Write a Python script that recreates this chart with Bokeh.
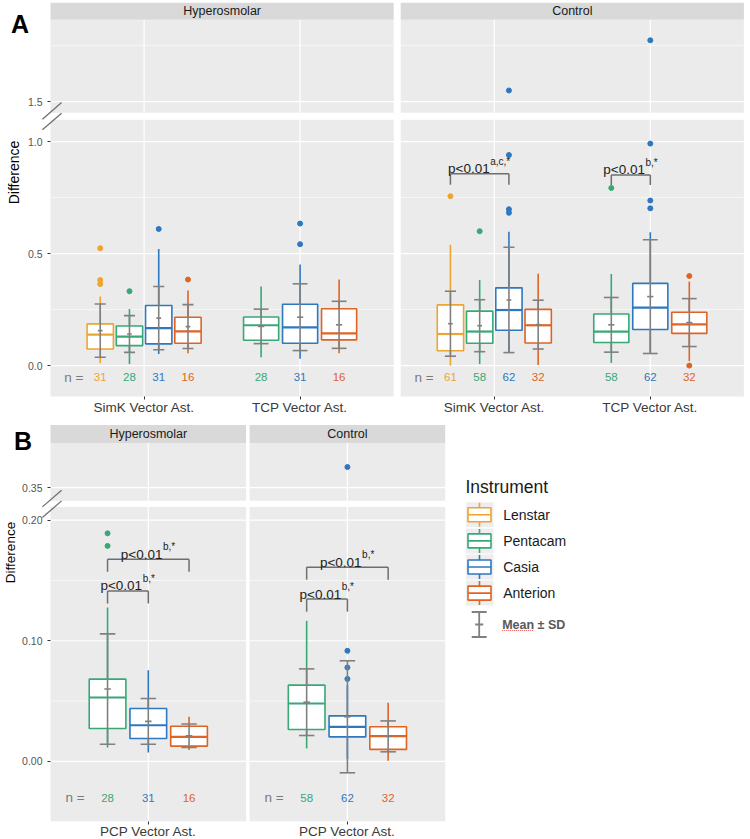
import math
from bokeh.plotting import figure
from bokeh.models import Range1d, LinearAxis, FixedTicker, NumeralTickFormatter
from bokeh.layouts import column, row
from bokeh.embed import file_html
from bokeh.resources import INLINE
from bokeh.core.properties import value

FONT = "Liberation Sans"
PANEL = "#EBEBEB"
STRIP = "#D9D9D9"
MEAN_GREY = "#808080"

# ---------------- data ----------------
instruments = ["Lenstar", "Pentacam", "Casia", "Anterion"]
inst_colors = ["#EFA42F", "#38A877", "#2D78C0", "#DF6424"]
facets = ["Hyperosmolar", "Control"]

# Panel A
A_categories = ["SimK Vector Ast.", "TCP Vector Ast."]
A_facet = ["Hyperosmolar"] * 7 + ["Control"] * 7
A_cat = (["SimK Vector Ast."] * 4 + ["TCP Vector Ast."] * 3) * 2
A_inst = (["Lenstar", "Pentacam", "Casia", "Anterion"] + ["Pentacam", "Casia", "Anterion"]) * 2
A_q1 = [0.074, 0.089, 0.097, 0.100, 0.113, 0.100, 0.115, 0.066, 0.100, 0.158, 0.101, 0.103, 0.161, 0.144]
A_med = [0.138, 0.129, 0.167, 0.153, 0.180, 0.171, 0.144, 0.141, 0.152, 0.248, 0.180, 0.152, 0.259, 0.184]
A_q3 = [0.186, 0.177, 0.268, 0.216, 0.217, 0.274, 0.254, 0.271, 0.243, 0.347, 0.251, 0.230, 0.367, 0.238]
A_lo = [0.010, 0.007, 0.052, 0.055, 0.037, 0.030, 0.055, 0.000, 0.007, 0.058, 0.003, 0.012, 0.055, 0.020]
A_hi = [0.308, 0.253, 0.521, 0.335, 0.353, 0.451, 0.384, 0.540, 0.382, 0.598, 0.410, 0.409, 0.595, 0.375]
A_mean = [0.156, 0.141, 0.212, 0.174, 0.175, 0.216, 0.182, 0.187, 0.178, 0.293, 0.183, 0.182, 0.308, 0.192]
A_sd = [0.119, 0.082, 0.141, 0.098, 0.077, 0.149, 0.105, 0.145, 0.116, 0.235, 0.109, 0.122, 0.254, 0.107]
A_n = [31, 28, 31, 16, 28, 31, 16, 61, 58, 62, 32, 58, 62, 32]

A_out_facet = ["Hyperosmolar"] * 8 + ["Control"] * 13
A_out_cat = (["SimK Vector Ast."] * 6 + ["TCP Vector Ast."] * 2
             + ["SimK Vector Ast."] * 6 + ["TCP Vector Ast."] * 7)
A_out_inst = (["Lenstar"] * 3 + ["Pentacam", "Casia", "Anterion"] + ["Casia"] * 2
              + ["Lenstar", "Pentacam"] + ["Casia"] * 4
              + ["Pentacam"] + ["Casia"] * 4 + ["Anterion"] * 2)
A_out_val = [0.524, 0.382, 0.364, 0.332, 0.610, 0.384, 0.634, 0.542,
             0.756, 0.600, 0.698, 0.682, 0.940, 1.550,
             0.793, 0.737, 0.702, 0.991, 1.774, 0.400, 0.000]

A_sig_facet = ["Control", "Control"]
A_sig_cat = ["SimK Vector Ast.", "TCP Vector Ast."]
A_sig_from = ["Lenstar", "Pentacam"]
A_sig_to = ["Casia", "Casia"]
A_sig_y = [0.856, 0.851]
A_sig_tip = [0.049, 0.045]
A_sig_sup = ["a,c,*", "b,*"]

A_y_major = [0.0, 0.5, 1.0]
A_y_minor = [0.25, 0.75]
A_top_major = [1.5]
A_top_minor = [1.75]

# Panel B
B_categories = ["PCP Vector Ast."]
B_facet = ["Hyperosmolar"] * 3 + ["Control"] * 3
B_cat = ["PCP Vector Ast."] * 6
B_inst = ["Pentacam", "Casia", "Anterion"] * 2
B_q1 = [0.0273, 0.0190, 0.0127, 0.0265, 0.0204, 0.0100]
B_med = [0.0530, 0.0300, 0.0204, 0.0480, 0.0287, 0.0210]
B_q3 = [0.0682, 0.0439, 0.0292, 0.0632, 0.0378, 0.0287]
B_lo = [0.0116, 0.0075, 0.0094, 0.0108, 0.0020, 0.0005]
B_hi = [0.1276, 0.0756, 0.0370, 0.1165, 0.0632, 0.0486]
B_mean = [0.0600, 0.0332, 0.0213, 0.0491, 0.0370, 0.0208]
B_sd = [0.0457, 0.0189, 0.0097, 0.0276, 0.0464, 0.0128]
B_n = [28, 31, 16, 58, 62, 32]

B_out_facet = ["Hyperosmolar"] * 2 + ["Control"] * 4
B_out_cat = ["PCP Vector Ast."] * 6
B_out_inst = ["Pentacam"] * 2 + ["Casia"] * 4
B_out_val = [0.189, 0.1786, 0.0917, 0.0779, 0.0684, 0.367]

B_sig_facet = ["Hyperosmolar", "Hyperosmolar", "Control", "Control"]
B_sig_cat = ["PCP Vector Ast."] * 4
B_sig_from = ["Pentacam"] * 4
B_sig_to = ["Casia", "Anterion", "Casia", "Anterion"]
B_sig_y = [0.1413, 0.1676, 0.1345, 0.1610]
B_sig_tip = [0.0104, 0.0104, 0.0104, 0.0104]
B_sig_sup = ["b,*", "b,*", "b,*", "b,*"]

B_y_major = [0.0, 0.1, 0.2]
B_y_minor = [0.05, 0.15]
B_top_major = [0.35]
B_top_minor = []

color_of = dict(zip(instruments, inst_colors))


def dodge_positions(facet_arr, cat_arr, inst_arr, categories):
    pos = {}
    for f in facets:
        for ci, c in enumerate(categories):
            members = [ins for ff, cc, ins in zip(facet_arr, cat_arr, inst_arr) if ff == f and cc == c]
            n = len(members)
            if n == 0:
                continue
            slot = 0.75 / n
            for k, ins in enumerate(members):
                pos[(f, c, ins)] = (ci + 1 + (k - (n - 1) / 2) * slot, slot)
    return pos


def style_axis(ax, size, color, standoff):
    ax.axis_line_color = None
    ax.major_tick_line_color = "#333333"
    ax.major_tick_in = 0
    ax.major_tick_out = 3
    ax.minor_tick_line_color = None
    ax.major_label_text_font = FONT
    ax.major_label_text_font_size = size
    ax.major_label_text_color = color
    ax.major_label_standoff = standoff


def build_group(cfg, d):
    W, H = cfg["width"], cfg["height"]
    pxx, pxy = cfg["px_x"], cfg["px_y"]
    cats = cfg["categories"]
    ncat = len(cats)
    bl, tl = cfg["bottom_lim"], cfg["top_lim"]
    x0 = 0.4 - cfg["left_px"] / pxx
    x1 = x0 + W / pxx
    y0 = bl[0] - cfg["below_px"] / pxy
    y1 = y0 + H / pxy
    fac_off = ncat + 0.2 + cfg["facet_gap_px"] / pxx
    top_off = tl[0] - (bl[1] + cfg["gap_px"] / pxy)

    p = figure(width=W, height=H, x_range=Range1d(x0, x1), y_range=Range1d(y0, y1),
               x_axis_location=None, y_axis_location=None, toolbar_location=None,
               output_backend="svg", min_border=0, outline_line_color=None,
               background_fill_color="white", border_fill_color="white", title=None)
    p.extra_x_ranges = {"ctrl": Range1d(x0 - fac_off, x1 - fac_off)}
    p.extra_y_ranges = {"top": Range1d(y0 + top_off, y1 + top_off)}
    p.xgrid.visible = False
    p.ygrid.visible = False

    pos = dodge_positions(d["facet"], d["cat"], d["inst"], cats)
    xl, xr_ = 0.4, ncat + 0.6
    strip_h = cfg["strip_px"] / pxy

    for fi, fac in enumerate(facets):
        kw = dict(x_range_name="default" if fi == 0 else "ctrl")
        # panel backgrounds and strip
        p.quad(left=[xl], right=[xr_], bottom=[bl[0]], top=[bl[1]], fill_color=PANEL, line_color=None, **kw)
        p.quad(left=[xl], right=[xr_], bottom=[tl[0]], top=[tl[1]], fill_color=PANEL, line_color=None,
               y_range_name="top", **kw)
        p.quad(left=[xl], right=[xr_], bottom=[tl[1]], top=[tl[1] + strip_h], fill_color=STRIP, line_color=None,
               y_range_name="top", **kw)
        p.text(x=[(xl + xr_) / 2], y=[tl[1] + strip_h / 2], text=[fac], text_align="center",
               text_baseline="middle", text_font=value(FONT), text_font_size="12.5px", text_color="#1A1A1A",
               y_range_name="top", **kw)
        # grid lines
        for lim, yr, majors, minors in ((bl, "default", cfg["y_major"], cfg["y_minor"]),
                                        (tl, "top", cfg["top_major"], cfg["top_minor"])):
            if minors:
                p.segment(x0=[xl] * len(minors), x1=[xr_] * len(minors), y0=minors, y1=minors,
                          line_color="white", line_width=0.6, y_range_name=yr, **kw)
            if majors:
                p.segment(x0=[xl] * len(majors), x1=[xr_] * len(majors), y0=majors, y1=majors,
                          line_color="white", line_width=1.2, y_range_name=yr, **kw)
            cx = list(range(1, ncat + 1))
            p.segment(x0=cx, x1=cx, y0=[lim[0]] * ncat, y1=[lim[1]] * ncat,
                      line_color="white", line_width=1.2, y_range_name=yr, **kw)

        idx = [i for i, f in enumerate(d["facet"]) if f == fac]
        xs = [pos[(fac, d["cat"][i], d["inst"][i])][0] for i in idx]
        slots = [pos[(fac, d["cat"][i], d["inst"][i])][1] for i in idx]
        cols = [color_of[d["inst"][i]] for i in idx]
        q1 = [d["q1"][i] for i in idx]
        med = [d["med"][i] for i in idx]
        q3 = [d["q3"][i] for i in idx]
        lo = [d["lo"][i] for i in idx]
        hi = [d["hi"][i] for i in idx]
        mn = [d["mean"][i] for i in idx]
        sd = [d["sd"][i] for i in idx]
        half = [0.45 * s for s in slots]
        left = [x - h for x, h in zip(xs, half)]
        right = [x + h for x, h in zip(xs, half)]

        p.segment(x0=xs, x1=xs, y0=q3, y1=hi, line_color=cols, line_width=1.6, **kw)
        p.segment(x0=xs, x1=xs, y0=q1, y1=lo, line_color=cols, line_width=1.6, **kw)
        p.quad(left=left, right=right, bottom=q1, top=q3, fill_color="white", line_color=cols,
               line_width=1.6, **kw)
        p.segment(x0=left, x1=right, y0=med, y1=med, line_color=cols, line_width=2.2, **kw)

        # outliers
        oi = [j for j, f in enumerate(d["out_facet"]) if f == fac]
        for yr, upper in (("default", False), ("top", True)):
            sel = [j for j in oi if (d["out_val"][j] > bl[1]) == upper]
            if sel:
                ox = [pos[(fac, d["out_cat"][j], d["out_inst"][j])][0] for j in sel]
                oc = [color_of[d["out_inst"][j]] for j in sel]
                p.scatter(x=ox, y=[d["out_val"][j] for j in sel], marker="circle", size=5,
                          fill_color=oc, line_color=oc, y_range_name=yr, **kw)

        # mean +/- SD
        capw = [0.19 * s for s in slots]
        mw = [0.08 * s for s in slots]
        sd_lo = [m - s for m, s in zip(mn, sd)]
        sd_hi = [m + s for m, s in zip(mn, sd)]
        p.segment(x0=xs, x1=xs, y0=sd_lo, y1=sd_hi, line_color=MEAN_GREY, line_width=1.6, **kw)
        p.segment(x0=[x - c for x, c in zip(xs, capw)], x1=[x + c for x, c in zip(xs, capw)],
                  y0=sd_lo, y1=sd_lo, line_color=MEAN_GREY, line_width=1.6, **kw)
        p.segment(x0=[x - c for x, c in zip(xs, capw)], x1=[x + c for x, c in zip(xs, capw)],
                  y0=sd_hi, y1=sd_hi, line_color=MEAN_GREY, line_width=1.6, **kw)
        p.segment(x0=[x - c for x, c in zip(xs, mw)], x1=[x + c for x, c in zip(xs, mw)],
                  y0=mn, y1=mn, line_color=MEAN_GREY, line_width=1.6, **kw)

        # n labels
        p.text(x=[0.55], y=[cfg["n_y"]], text=["n ="], text_align="center", text_baseline="middle",
               text_font=value(FONT), text_font_size="13.5px", text_color="#7A7A7A", **kw)
        p.text(x=xs, y=[cfg["n_y"]] * len(xs), text=[str(d["n"][i]) for i in idx], text_align="center",
               text_baseline="middle", text_font=value(FONT), text_font_size="11.5px", text_color=cols, **kw)

        # significance brackets
        si = [j for j, f in enumerate(d["sig_facet"]) if f == fac]
        for j in si:
            xa = pos[(fac, d["sig_cat"][j], d["sig_from"][j])][0]
            xb = pos[(fac, d["sig_cat"][j], d["sig_to"][j])][0]
            yt = d["sig_y"][j]
            yb = yt - d["sig_tip"][j]
            p.segment(x0=[xa, xa, xb], x1=[xb, xa, xb], y0=[yt, yt, yt], y1=[yt, yb, yb],
                      line_color="#6E6E6E", line_width=1.5, **kw)
            sup = d["sig_sup"][j]
            w_main = 41.0
            w_sup = len(sup) * 4.2
            off = (w_main - w_sup) / 2
            p.text(x=[(xa + xb) / 2], y=[yt], text=["p<0.01"], text_align="right", text_baseline="alphabetic",
                   x_offset=off, y_offset=-5, text_font=value(FONT), text_font_size="13.5px",
                   text_color="#222222", **kw)
            p.text(x=[(xa + xb) / 2], y=[yt], text=[sup], text_align="left", text_baseline="alphabetic",
                   x_offset=off + 0.5, y_offset=-12.5, text_font=value(FONT), text_font_size="10px",
                   text_color="#222222", **kw)

    # axes
    yax = LinearAxis(fixed_location=0.4, ticker=FixedTicker(ticks=cfg["y_major"]),
                     formatter=NumeralTickFormatter(format=cfg["fmt"]))
    style_axis(yax, "10.5px", "#555555", 5)
    p.add_layout(yax, "left")
    yax2 = LinearAxis(y_range_name="top", fixed_location=0.4, ticker=FixedTicker(ticks=cfg["top_major"]),
                      formatter=NumeralTickFormatter(format=cfg["fmt"]))
    style_axis(yax2, "10.5px", "#555555", 5)
    p.add_layout(yax2, "left")
    for xrn in ("default", "ctrl"):
        xax = LinearAxis(x_range_name=xrn, fixed_location=bl[0],
                         ticker=FixedTicker(ticks=list(range(1, ncat + 1))),
                         major_label_overrides={i + 1: c for i, c in enumerate(cats)})
        style_axis(xax, "13.5px", "#3A3A3A", 0)
        p.add_layout(xax, "below")

    # decorations: panel letter, y title, axis break marks
    X = lambda px: x0 + px / pxx
    Y = lambda px: y1 - px / pxy
    lx, ly = cfg["letter_xy"]
    p.text(x=[X(lx)], y=[Y(ly)], text=[cfg["letter"]], text_align="center", text_baseline="middle",
           text_font=value(FONT), text_font_size="25px", text_font_style="bold", text_color="black")
    dx, dy = cfg["ylabel_xy"]
    p.text(x=[X(dx)], y=[Y(dy)], text=["Difference"], angle=math.pi / 2, text_align="center",
           text_baseline="middle", text_font=value(FONT), text_font_size=cfg["ylabel_size"],
           text_color="black")
    gy = bl[1] + cfg["gap_px"] / 2 / pxy
    cxs = 0.4 + 1.5 / pxx
    for sgn in (1, -1):
        cy = gy + sgn * 5.3 / pxy
        p.segment(x0=[cxs - 9.6 / pxx], y0=[cy - 8.3 / pxy], x1=[cxs + 9.6 / pxx], y1=[cy + 8.3 / pxy],
                  line_color="#707070", line_width=1.3)
    return p


cfgA = dict(width=750, height=416, px_x=156, px_y=224, left_px=50, facet_gap_px=7,
            bottom_lim=(-0.138, 1.098), top_lim=(1.451, 1.866), gap_px=7, strip_px=17, below_px=20,
            categories=A_categories, y_major=A_y_major, y_minor=A_y_minor, top_major=A_top_major,
            top_minor=A_top_minor, fmt="0.0", n_y=-0.052, letter="A", letter_xy=(19.5, 23),
            ylabel_xy=(13.5, 172), ylabel_size="14px")
dA = dict(facet=A_facet, cat=A_cat, inst=A_inst, q1=A_q1, med=A_med, q3=A_q3, lo=A_lo, hi=A_hi,
          mean=A_mean, sd=A_sd, n=A_n, out_facet=A_out_facet, out_cat=A_out_cat, out_inst=A_out_inst,
          out_val=A_out_val, sig_facet=A_sig_facet, sig_cat=A_sig_cat, sig_from=A_sig_from, sig_to=A_sig_to,
          sig_y=A_sig_y, sig_tip=A_sig_tip, sig_sup=A_sig_sup)

cfgB = dict(width=448, height=423, px_x=163, px_y=1207, left_px=50, facet_gap_px=3.5,
            bottom_lim=(-0.0495, 0.2108), top_lim=(0.3391, 0.3869), gap_px=6.3, strip_px=18, below_px=18.3,
            categories=B_categories, y_major=B_y_major, y_minor=B_y_minor, top_major=B_top_major,
            top_minor=B_top_minor, fmt="0.00", n_y=-0.030, letter="B", letter_xy=(22.5, 24.5),
            ylabel_xy=(10, 136), ylabel_size="13.5px")
dB = dict(facet=B_facet, cat=B_cat, inst=B_inst, q1=B_q1, med=B_med, q3=B_q3, lo=B_lo, hi=B_hi,
          mean=B_mean, sd=B_sd, n=B_n, out_facet=B_out_facet, out_cat=B_out_cat, out_inst=B_out_inst,
          out_val=B_out_val, sig_facet=B_sig_facet, sig_cat=B_sig_cat, sig_from=B_sig_from, sig_to=B_sig_to,
          sig_y=B_sig_y, sig_tip=B_sig_tip, sig_sup=B_sig_sup)

pA = build_group(cfgA, dA)
pB = build_group(cfgB, dB)

# ---------------- legend ----------------
LW, LH = 302, 423
pL = figure(width=LW, height=LH, x_range=Range1d(0, LW), y_range=Range1d(LH, 0),
            x_axis_location=None, y_axis_location=None, toolbar_location=None, output_backend="svg",
            min_border=0, outline_line_color=None, title=None)
pL.xgrid.visible = False
pL.ygrid.visible = False
pL.text(x=[17], y=[70.7], text=["Instrument"], text_align="left", text_baseline="middle",
        text_font=value(FONT), text_font_size="17.5px", text_color="#1A1A1A")
row_y = [98.3 + 26.1 * i for i in range(len(instruments))]
kcx = 31
pL.quad(left=[17.5] * 4, right=[45] * 4, top=[y - 12.5 for y in row_y], bottom=[y + 12.5 for y in row_y],
        fill_color="#EEEEEE", line_color=None)
pL.segment(x0=[kcx] * 4, x1=[kcx] * 4, y0=[y - 12 for y in row_y], y1=[y + 12 for y in row_y],
           line_color=inst_colors, line_width=1.6)
pL.quad(left=[kcx - 11.5] * 4, right=[kcx + 11.5] * 4, top=[y - 7 for y in row_y], bottom=[y + 7 for y in row_y],
        fill_color="white", line_color=inst_colors, line_width=1.6)
pL.segment(x0=[kcx - 11.5] * 4, x1=[kcx + 11.5] * 4, y0=row_y, y1=row_y, line_color=inst_colors, line_width=1.6)
pL.text(x=[54.7] * 4, y=row_y, text=instruments, text_align="left", text_baseline="middle",
        text_font=value(FONT), text_font_size="14px", text_color="#1A1A1A")
my = 208
pL.segment(x0=[30.7, 23.2, 23.2, 26.7], x1=[30.7, 38.2, 38.2, 34.7], y0=[my - 12.5, my - 12.5, my + 12.5, my],
           y1=[my + 12.5, my - 12.5, my + 12.5, my], line_color=MEAN_GREY, line_width=1.8)
pL.text(x=[53.7], y=[my], text=["Mean ± SD"], text_align="left", text_baseline="middle",
        text_font=value(FONT), text_font_size="12.5px", text_font_style="bold", text_color="#595959")
pL.segment(x0=[53.7], x1=[85.5], y0=[my + 6], y1=[my + 6], line_color="#E05050", line_width=1,
           line_dash="1 1")

layout = column(pA, row(pB, pL))
open("out.html", "w").write(file_html(layout, INLINE))
